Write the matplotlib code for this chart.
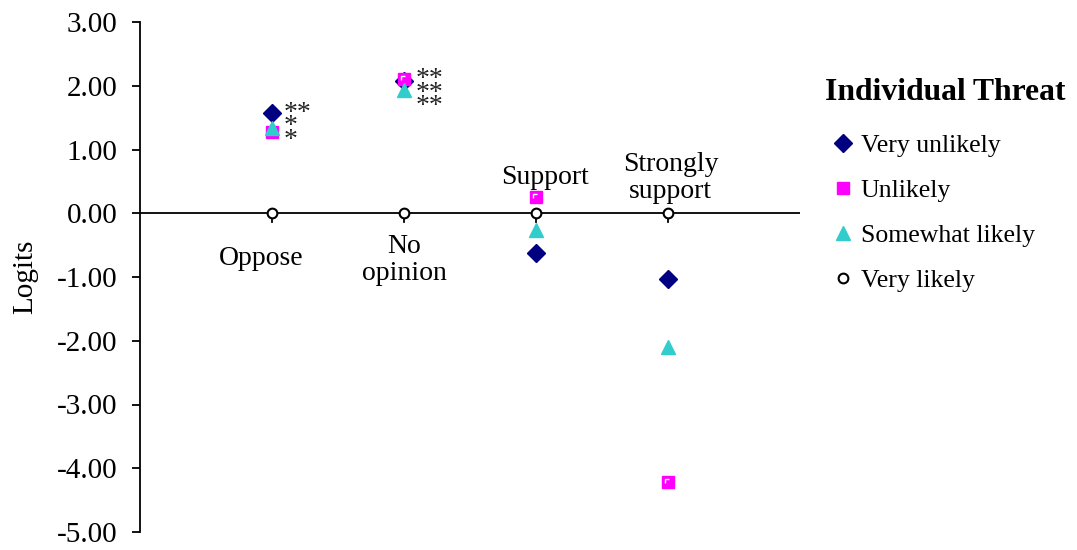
import numpy as np
import matplotlib.pyplot as plt
from matplotlib.path import Path

plt.rcParams['font.family'] = ['Liberation Serif', 'DejaVu Serif']

categories = ['Oppose', 'No\nopinion', 'Support', 'Strongly\nsupport']
very_unlikely = [1.57, 2.08, -0.63, -1.03]
unlikely = [1.28, 2.10, 0.25, -4.22]
somewhat_likely = [1.33, 1.93, -0.27, -2.10]
very_likely = [0.00, 0.00, 0.00, 0.00]
stars = ['**\n*\n*', '**\n**\n**']

x = np.arange(1, len(categories) + 1)

fig = plt.figure(figsize=(10.77, 5.5), dpi=100)
ax = fig.add_axes([140 / 1077, 18 / 550, 660 / 1077, 510 / 550])

# little white corner drawn inside the square markers
corner = Path([(-1, -1), (-0.55, -0.2), (-0.55, 0.55), (0.2, 0.55)],
              [Path.MOVETO, Path.MOVETO, Path.LINETO, Path.LINETO])

ax.plot(x, very_unlikely, 'D', color='#000080', ms=9, label='Very unlikely', zorder=3)
ax.plot(x, unlikely, 's', color='#ff00ff', mec='#ff00ff', ms=8, label='Unlikely', zorder=3)
ax.plot(x, unlikely, marker=corner, ls='none', mfc='none', mec='white', mew=1.0, ms=8, zorder=3)
ax.plot(x, somewhat_likely, '^', color='#33cccc', ms=10, label='Somewhat likely', zorder=4)
ax.plot(x, very_likely, 'o', mfc='white', mec='black', mew=1.5, ms=7, label='Very likely', zorder=5)

# significance stars next to the first two categories
for i, s in enumerate(stars):
    top = max(very_unlikely[i], unlikely[i])
    ax.text(x[i] + 0.09, top + 0.19, s, fontsize=20, va='top', ha='left',
            color='#222222', linespacing=0.39)

# category labels sitting on the zero line
ax.text(x[0] - 0.08, -0.71, categories[0], ha='center', va='center', fontsize=20)
ax.text(x[1], -0.74, categories[1], ha='center', va='center', fontsize=20, linespacing=1.1)
ax.text(x[2] + 0.07, 0.56, categories[2], ha='center', va='center', fontsize=20)
ax.text(x[3] + 0.02, 0.55, categories[3], ha='center', va='center', fontsize=20, linespacing=1.1)

ax.set_xlim(0, 5)
ax.set_ylim(-5, 3)
ax.set_yticks(np.arange(-5, 3.01, 1))
ax.set_yticklabels(['%.2f' % v for v in np.arange(-5, 3.01, 1)], fontsize=21)
ax.tick_params(axis='y', direction='out', length=6, width=1.3, pad=10)

for side in ['top', 'right', 'bottom']:
    ax.spines[side].set_visible(False)
ax.spines['left'].set_linewidth(1.3)
ax.axhline(0, color='black', lw=1.3, zorder=2)
ax.set_xticks([])
for xi in x:
    ax.plot([xi, xi], [0, -0.13], color='black', lw=1.3, zorder=2)

ax.set_ylabel('Logits', fontsize=21, labelpad=14)

fig.text(825 / 1077, 1 - 92 / 550, 'Individual Threat', fontsize=22.8,
         fontweight='bold', ha='left', va='center')
leg = fig.legend(loc='upper left', bbox_to_anchor=(830 / 1077, 1 - 134 / 550),
                 frameon=False, fontsize=18.5, handletextpad=0.2, handlelength=1.0,
                 labelspacing=0.86, borderaxespad=0, borderpad=0)

fig.savefig('out.png', dpi=100)
